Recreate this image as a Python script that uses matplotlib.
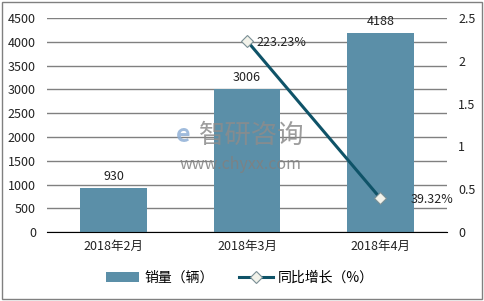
import matplotlib
matplotlib.use('Agg')
import matplotlib.pyplot as plt
from matplotlib.patches import Rectangle

plt.rcParams['font.family'] = ['Noto Sans CJK SC', 'DejaVu Sans']

months = ['2018年2月', '2018年3月', '2018年4月']
sales = [930, 3006, 4188]
growth_x = [1, 2]
growth = [2.2323, 0.3932]
growth_labels = ['223.23%', '39.32%']

bar_color = '#5b8fa8'
line_color = '#0f5368'

fig = plt.figure(figsize=(4.85, 3.01), dpi=100)
ax = fig.add_axes([0.097, 0.229, 0.825, 0.711])
x = range(len(months))
ax.bar(x, sales, width=0.5, color=bar_color, zorder=2, label='销量（辆）')
ax.set_ylim(0, 4500)
ax.set_xlim(-0.5, 2.5)
ax.set_yticks(range(0, 4501, 500))
ax.yaxis.grid(True, color='#808080', linewidth=1, zorder=0)
ax.set_axisbelow(True)
for s in ['top', 'right', 'left']:
    ax.spines[s].set_visible(False)
ax.spines['bottom'].set_color('black')
ax.set_xticks(list(x))
ax.set_xticklabels(months)
ax.tick_params(axis='both', length=0, labelsize=9, colors='#222222')
ax.tick_params(axis='y', pad=8)
ax.tick_params(axis='x', pad=6)
for i, v in enumerate(sales):
    ax.text(i, v + 100, str(v), ha='center', va='bottom', fontsize=9, color='#222222')

ax2 = ax.twinx()
ax2.set_ylim(0, 2.5)
ax2.set_yticks([0, 0.5, 1, 1.5, 2, 2.5])
ax2.set_yticklabels(['0', '0.5', '1', '1.5', '2', '2.5'])
for s in ax2.spines.values():
    s.set_visible(False)
ax2.tick_params(axis='y', length=0, labelsize=9, colors='#222222', pad=8)
ax2.plot(growth_x, growth, color=line_color, linewidth=2.2, marker='D', markersize=6,
         markerfacecolor='#f2f2ea', markeredgecolor='#7a8f95', markeredgewidth=0.8,
         label='同比增长（%）', zorder=3)
label_dx = [7, 22]
label_dy = [-1, -1]
for xi, yi, t, dx, dy in zip(growth_x, growth, growth_labels, label_dx, label_dy):
    ax2.annotate(t, (xi, yi), xytext=(dx, dy), textcoords='offset points',
                 ha='left', va='center', fontsize=9, color='#222222')

# watermark
fig.text(0.41, 0.55, '智研咨询', fontsize=19, color='#8c8c8c', alpha=0.85, ha='left', va='center')
fig.text(0.495, 0.452, 'www.chyxx.com', fontsize=11.5, color='#808080', alpha=0.85, ha='center', va='center')
fig.text(0.378, 0.55, 'e', fontsize=18, color='#8fb0d6', alpha=0.85, ha='center', va='center',
         fontweight='bold')

h1, l1 = ax.get_legend_handles_labels()
h2, l2 = ax2.get_legend_handles_labels()
fig.legend(h1 + h2, l1 + l2, loc='center', bbox_to_anchor=(0.495, 0.077), ncol=2,
           frameon=False, fontsize=10, handlelength=2.4, handletextpad=0.4, columnspacing=1.8)

fig.add_artist(Rectangle((0.004, 0.007), 0.99, 0.986, transform=fig.transFigure,
                         fill=False, edgecolor='#808080', linewidth=1))
fig.savefig('out.png', dpi=100)
